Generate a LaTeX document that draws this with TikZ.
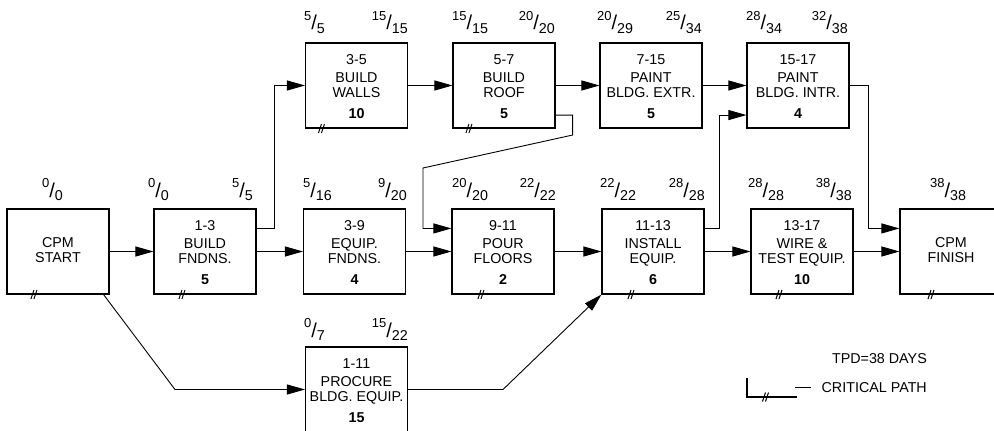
\documentclass[tikz,border=0pt]{standalone}
\usepackage{fontspec}
\setmainfont{Liberation Sans}
\usetikzlibrary{arrows.meta}
\newcommand\frc[2]{{\fontsize{13}{13}\selectfont\raisebox{13pt}{#1}}{\fontsize{20}{20}\selectfont\raisebox{3pt}{/}}#2}
\newcommand\actbox[7]{%
  \node[box] (#1) at (#2,#3) {};
  \node[txt] (#1i) at ([yshift=-22pt]#1.north) {#4};
  \node[txt] (#1a) at ([yshift=-40pt]#1.north) {#5};
  \node[txt] (#1b) at ([yshift=-55pt]#1.north) {#6};
  \node[txt] (#1d) at ([yshift=-76pt]#1.north) {\bfseries #7};
}
\newcommand\critmark[2]{%
  \draw[crit] ([xshift=#2pt]#1.south west) ++(-3.5,4.5) -- ++(3,-9) ++(0,9) -- ++(3,-9);
}
\begin{document}
\begin{tikzpicture}[x=1pt,y=-1pt,font=\fontsize{14.3}{15}\selectfont,
  box/.style={draw,line width=1.1pt,minimum width=102pt,minimum height=85pt,inner sep=0pt},
  arr/.style={draw,line width=0.9pt,-{Triangle[length=18pt,width=10pt]}},
  lnk/.style={draw,line width=0.9pt},
  crit/.style={line width=1pt},
  fr/.style={inner sep=0pt},
  txt/.style={inner sep=0pt,anchor=base}]
\clip (0,0) rectangle (994,431);
% start / finish
\node[box] (st) at (58,251.5) {};
\node[txt] (sta) at ([yshift=-39pt]st.north) {CPM};
\node[txt] (stb) at ([yshift=-54pt]st.north) {START};
\node[box] (fin) at (951,251.5) {};
\node[txt] (fina) at ([yshift=-39pt]fin.north) {CPM};
\node[txt] (finb) at ([yshift=-54pt]fin.north) {FINISH};
% activities
\actbox{a13}{205}{251.5}{1-3}{BUILD}{FNDNS.}{5}
\actbox{a39}{354.5}{251.5}{3-9}{EQUIP.}{FNDNS.}{4}
\actbox{a911}{503}{251.5}{9-11}{POUR}{FLOORS}{2}
\actbox{a1113}{653}{251.5}{11-13}{INSTALL}{EQUIP.}{6}
\actbox{a1317}{802}{251.5}{13-17}{WIRE \&}{TEST EQUIP.}{10}
\actbox{a35}{356.5}{85.5}{3-5}{BUILD}{WALLS}{10}
\actbox{a57}{504}{85.5}{5-7}{BUILD}{ROOF}{5}
\actbox{a715}{651}{85.5}{7-15}{PAINT}{BLDG. EXTR.}{5}
\actbox{a1517}{798}{85.5}{15-17}{PAINT}{BLDG. INTR.}{4}
\actbox{a111}{356.5}{389.5}{1-11}{PROCURE}{BLDG. EQUIP.}{15}
% times
\node[fr,anchor=base west] (fst) at (42,200) {\frc{0}{0}};
\node[fr,anchor=base west] (f13a) at (148,200) {\frc{0}{0}};
\node[fr,anchor=base east] (f13b) at (253,200) {\frc{5}{5}};
\node[fr,anchor=base west] (f39a) at (303,200) {\frc{5}{16}};
\node[fr,anchor=base east] (f39b) at (407,200) {\frc{9}{20}};
\node[fr,anchor=base west] (f911a) at (452,200) {\frc{20}{20}};
\node[fr,anchor=base east] (f911b) at (556,200) {\frc{22}{22}};
\node[fr,anchor=base west] (f1113a) at (600,200) {\frc{22}{22}};
\node[fr,anchor=base east] (f1113b) at (705,200) {\frc{28}{28}};
\node[fr,anchor=base west] (f1317a) at (748,200) {\frc{28}{28}};
\node[fr,anchor=base east] (f1317b) at (852,200) {\frc{38}{38}};
\node[fr,anchor=base west] (ffin) at (930,200) {\frc{38}{38}};
\node[fr,anchor=base west] (f35a) at (304,33) {\frc{5}{5}};
\node[fr,anchor=base east] (f35b) at (408,33) {\frc{15}{15}};
\node[fr,anchor=base west] (f57a) at (452,33) {\frc{15}{15}};
\node[fr,anchor=base east] (f57b) at (555,33) {\frc{20}{20}};
\node[fr,anchor=base west] (f715a) at (597,33) {\frc{20}{29}};
\node[fr,anchor=base east] (f715b) at (702,33) {\frc{25}{34}};
\node[fr,anchor=base west] (f1517a) at (746,33) {\frc{28}{34}};
\node[fr,anchor=base east] (f1517b) at (848,33) {\frc{32}{38}};
\node[fr,anchor=base west] (f111a) at (304,340) {\frc{0}{7}};
\node[fr,anchor=base east] (f111b) at (408,340) {\frc{15}{22}};
% connectors
\coordinate (k1) at (423,168);
\coordinate (k2) at (175,389.5);
\coordinate (k3) at (503,389.5);
\draw[arr] (st) -- (a13);
\draw[arr] (a13) -- (a39);
\draw[arr] ([yshift=-20pt]a13.north east) -- ++(18,0) |- (a35.west);
\draw[arr] (a35) -- (a57);
\draw[arr] (a57) -- (a715);
\draw[arr] (a715) -- (a1517);
\draw[arr] ([yshift=13.5pt]a57.south east) -- ++(17,0) -- ++(0,20) -- (k1) |- ([yshift=-20pt]a911.north west);
\draw[arr] (a39) -- (a911);
\draw[arr] (a911) -- (a1113);
\draw[arr] (a1113) -- (a1317);
\draw[arr] (a1317) -- (fin);
\draw[arr] ([yshift=-20pt]a1113.north east) -- ++(15,0) |- ([yshift=13.5pt]a1517.south west);
\draw[arr] (a1517.east) -- ++(19,0) |- ([yshift=-20pt]fin.north west);
\draw[arr] ([xshift=-6pt]st.south east) -- (k2) -- (a111.west);
\draw[arr] (a111.east) -- (k3) -- (a1113.south west);
% critical path marks
\critmark{st}{28}
\critmark{a13}{29}
\critmark{a35}{17}
\critmark{a57}{17}
\critmark{a911}{30}
\critmark{a1113}{30}
\critmark{a1317}{29}
\critmark{fin}{32}
% legend
\node[txt,anchor=base east] (tpd) at (927,363) {TPD=38 DAYS};
\node[txt,anchor=base east] (cp) at (927,392) {CRITICAL PATH};
\coordinate (l0) at (747,378);
\coordinate (l1) at (747,397);
\coordinate (l2) at (797,397);
\draw[line width=1.1pt] (l0) -- (l1) -- (l2);
\draw[lnk] (795,387) -- (811,387);
\draw[crit] (766,397) ++(-3.5,4.5) -- ++(3,-9) ++(0,9) -- ++(3,-9);
\end{tikzpicture}
\end{document}
